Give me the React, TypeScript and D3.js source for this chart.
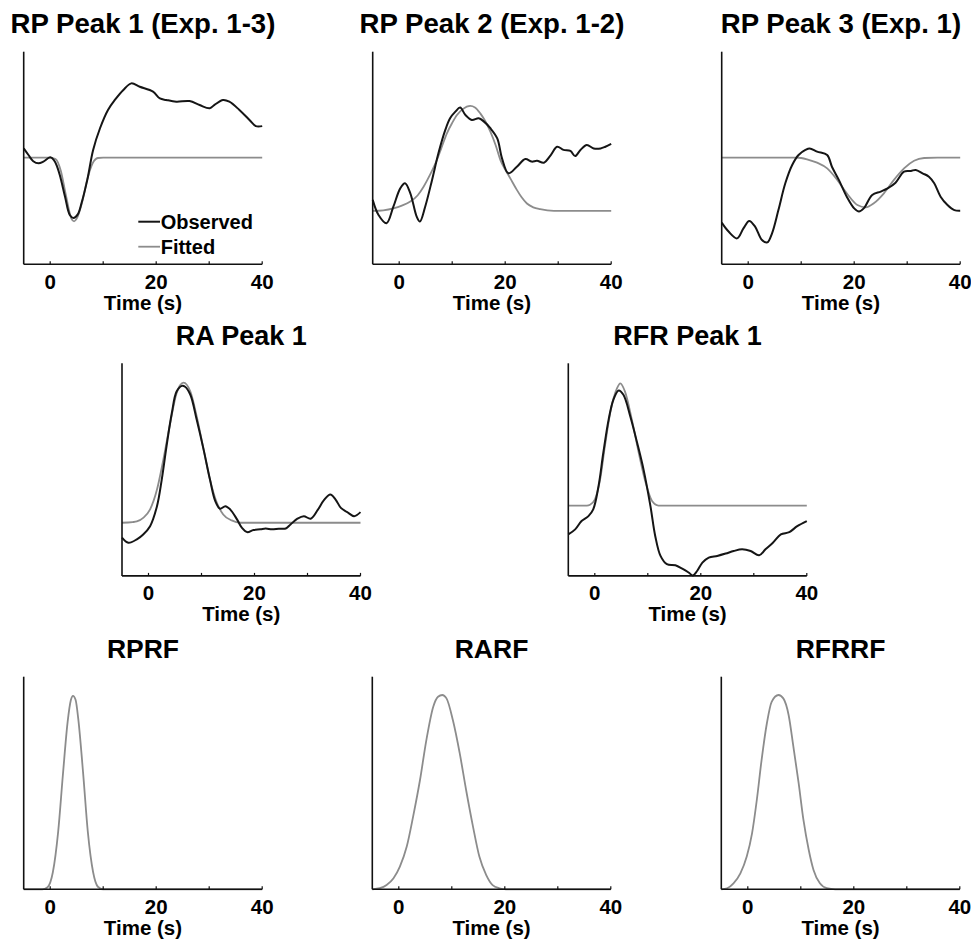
import React from "react";
import * as d3 from "d3";

type Pt = [number, number];

// time (s) vs. response, in percent of the panel's vertical extent
const rp1Observed: Pt[] = [
  [-5, 54.5], [-4.1, 51.4], [-3.2, 48.5], [-2.2, 47.5], [-1.3, 48.3], [0, 50.3], [0.7, 49],
  [1.3, 46], [1.9, 41.2], [2.8, 31.8], [3.7, 23.2], [4.4, 21.8], [5.2, 23.5], [5.9, 28.7],
  [7, 39.7], [8.1, 53.8], [9.4, 64], [10.9, 72.6], [12.2, 77.3], [13.8, 82], [15.3, 85.1],
  [16.9, 83.5], [19.4, 81.2], [20.7, 78], [21.9, 77.3], [23.8, 76.5], [26.3, 76.8], [28.2, 74.9],
  [30.1, 73.4], [31, 75], [32.6, 77.3], [33.8, 76.5], [35.7, 72.6], [37.6, 67.9], [38.8, 65], [40, 65],
];
const rp1Fitted: Pt[] = [
  [-5, 50.2], [-2, 50.2], [0, 50.2], [1, 49.5], [2, 44], [3, 32], [4, 21.5], [4.5, 20.2],
  [5, 21.5], [6, 29], [7, 40], [8, 47.5], [9, 50], [10, 50.2], [40, 50.2],
];

const rp2Observed: Pt[] = [
  [-5, 30.3], [-3.9, 23.2], [-2.4, 19.3], [-1.1, 27.1], [0.2, 35.7], [1.1, 38.1], [2.1, 33.4],
  [3.3, 22.4], [3.9, 20.1], [4.9, 27.1], [6.2, 39.7], [7.4, 52.2], [8.7, 63.2], [9.6, 68.7],
  [10.6, 71.8], [11.5, 73.7], [12.5, 70.2], [13.7, 67.9], [15, 68.7], [16, 67.1], [17.2, 64],
  [18.5, 59.2], [19.4, 49.8], [20.6, 42.8], [22.2, 45.9], [23.8, 49.5], [25, 48.3], [26, 48.7],
  [27.3, 47.8], [28.6, 51.4], [29.8, 55.3], [31, 53.8], [32.3, 53.3], [33.2, 50.9], [34.2, 53.8],
  [35.4, 56.1], [36.7, 54.5], [38, 54.5], [38.9, 55.3], [40, 56.6],
];
const rp2Fitted: Pt[] = [
  [-5, 25.1], [-3, 25.4], [-1.1, 26.3], [0.5, 27.6], [2.1, 29.5], [3.5, 32.5], [4.6, 36.5],
  [5.9, 42.5], [7.1, 49], [8, 55], [9, 61.6], [10, 66.5], [10.9, 70.2], [12, 73], [13.4, 74.5],
  [14.3, 73.8], [15.3, 71], [16.2, 67.5], [17.2, 62.4], [18.2, 56], [19.1, 49], [19.9, 45],
  [20.6, 42], [21.4, 38.5], [22.2, 35], [23.1, 31.5], [24.1, 28.6], [25.3, 26.8], [26.6, 25.9],
  [29.2, 25.1], [40, 25.1],
];

const rp3Observed: Pt[] = [
  [-5, 19.6], [-3.7, 15.4], [-2.1, 12.2], [-0.9, 16.9], [0.2, 20.4], [1.3, 17.7], [2.6, 11.4],
  [3.6, 10.3], [4.5, 14.6], [5.7, 25.5], [7, 38.1], [8.3, 46.7], [9.5, 51.4], [10.8, 53.8],
  [11.6, 54.5], [13, 53], [14.9, 51.4], [15.8, 45.9], [17.1, 39.7], [18.6, 31.8], [20, 26.3],
  [20.9, 24.8], [21.8, 26.3], [23.4, 32.6], [25, 34.2], [26.3, 35.7], [27.8, 38.4], [29.4, 43.6],
  [30.7, 43.9], [31.6, 44.4], [32.9, 42.8], [34.1, 41.2], [35.1, 38.1], [36.3, 31.8], [37.6, 27.9],
  [38.9, 25.5], [40, 25.2],
];
const rp3Fitted: Pt[] = [
  [-5, 50.2], [9, 50.2], [10, 50], [11.1, 49.4], [13, 47.8], [14.9, 45.1], [16.8, 39.7],
  [18.6, 33.4], [20.6, 27.9], [22.2, 26.8], [23.7, 28.7], [25.6, 33.4], [27.5, 39.7], [29.4, 45.1],
  [31.3, 48.7], [33.2, 50], [35.7, 50.2], [40, 50.2],
];

const raObserved: Pt[] = [
  [-5, 18], [-3.8, 15.6], [-2.2, 17.2], [-1, 19.5], [0.3, 23.4], [1.6, 32.8], [2.5, 45.3],
  [3.4, 60.9], [4.4, 76.6], [5.3, 86.7], [6.3, 89.4], [6.9, 89], [7.9, 85.2], [9.1, 73.4],
  [10.4, 59.4], [11.6, 45.3], [12.6, 35.2], [13.5, 31.6], [14.5, 32.8], [15.4, 31.3], [16.7, 26.6],
  [17.6, 22.7], [18.6, 20.6], [19.8, 21.6], [21.1, 21.9], [22.1, 22.3], [23.3, 21.9], [24.6, 22.2],
  [25.9, 22.3], [26.8, 24.2], [28.1, 26.9], [29.3, 28.1], [30.6, 26.9], [31.9, 30.9], [33.1, 35.6],
  [34.3, 38.3], [35.3, 35.9], [36.3, 32], [37.5, 30], [38.8, 28.1], [40, 30],
];
const raFitted: Pt[] = [
  [-5, 25], [-3, 25.3], [-2.2, 25.6], [-1, 27.3], [0.3, 31.3], [1.6, 40.6], [2.8, 54.7],
  [4.1, 71.9], [5.3, 85.9], [6.6, 90.9], [7.9, 86.7], [9.1, 75], [10.4, 59.4], [11.6, 45.3],
  [12.9, 34.4], [14.1, 28.9], [15.7, 26.1], [17.3, 25], [40, 25],
];

const rfrObserved: Pt[] = [
  [-5, 19.5], [-3.7, 21.9], [-2.5, 25.8], [-1.2, 28.1], [-0.3, 31.3], [0.7, 42.2], [1.6, 57.8],
  [2.6, 73.4], [3.5, 82.8], [4.5, 87.2], [5.4, 85.2], [6.7, 75], [8, 62.5], [9.2, 50], [10.5, 32.8],
  [11.4, 18.8], [12.4, 9.4], [13.6, 5.5], [15.2, 5], [16.5, 3.4], [17.7, 1.6], [18.5, 0.2],
  [19.3, 2.3], [20.3, 6.25], [21.5, 8.6], [23.1, 9.4], [24.7, 10.5], [26.2, 11.7], [27.8, 12.5],
  [29.4, 11.7], [31, 9.7], [32.2, 12.5], [33.6, 15.6], [35.1, 19.5], [36.7, 20.6], [38.2, 23.4],
  [40, 25.8],
];
const rfrFitted: Pt[] = [
  [-5, 33.1], [-1.5, 33.1], [-0.9, 33.5], [0, 35.9], [1, 45.3], [1.9, 60.9], [2.9, 76.6],
  [4.2, 88.3], [4.8, 90.6], [5.7, 86.7], [7, 73.4], [8.3, 57.8], [9.6, 43.8], [10.8, 35.2],
  [12, 33.1], [40, 33.1],
];

const rprf: Pt[] = [
  [-5, 0], [-1.5, 0], [-0.5, 1], [0.5, 8], [1.5, 27], [2.4, 54], [3.3, 79], [3.9, 89], [4.3, 91],
  [4.8, 89], [5.3, 80], [6.2, 55], [7.1, 27], [8.1, 8], [9, 1.2], [10, 0], [40, 0],
];
const rarf: Pt[] = [
  [-5, 0], [-3.6, 0.5], [-2.3, 2], [-1, 5.2], [0.2, 10.7], [1.5, 20.1], [2.7, 34.2], [4, 51.4],
  [5.2, 70.2], [6.5, 85.9], [7.4, 90.6], [8.2, 91.4], [9, 89.8], [10.2, 79.6], [11.5, 63.9],
  [12.7, 46.7], [14, 29.5], [15.2, 15.4], [16.5, 6.7], [17.7, 2], [19, 0.5], [20.2, 0], [40, 0],
];
const rfrrf: Pt[] = [
  [-5, 0], [-3.9, 0.5], [-2.7, 2.8], [-1.4, 7.5], [-0.2, 15.4], [0.8, 26.3], [1.7, 42],
  [2.6, 60.8], [3.6, 78.1], [4.5, 88.2], [5.8, 91.4], [6.7, 89.8], [7.7, 82], [8.6, 67.1],
  [9.6, 49.8], [10.5, 32.6], [11.5, 18.5], [12.4, 9.1], [13.6, 2.8], [14.9, 0.5], [16.5, 0], [40, 0],
];

const timeDomain: [number, number] = [-5, 40];
const legendLabels = ["Observed", "Fitted"];
const xLabel = "Time (s)";

const FONT = "'Liberation Sans', Arial, Helvetica, sans-serif";
const OBS = "#151515";
const FIT = "#8c8c8c";
const PW = 238.5;
const PH = 212.6;

interface PanelSpec {
  title: string;
  left: number;
  top: number;
  titleSize: number;
  observed?: Pt[];
  fitted: Pt[];
  legend?: boolean;
}

const panels: PanelSpec[] = [
  { title: "RP Peak 1 (Exp. 1-3)", left: 23.7, top: 51.7, titleSize: 27.6, observed: rp1Observed, fitted: rp1Fitted, legend: true },
  { title: "RP Peak 2 (Exp. 1-2)", left: 372.7, top: 51.7, titleSize: 27.6, observed: rp2Observed, fitted: rp2Fitted },
  { title: "RP Peak 3 (Exp. 1)", left: 721.7, top: 51.7, titleSize: 27.6, observed: rp3Observed, fitted: rp3Fitted },
  { title: "RA Peak 1", left: 122, top: 363.3, titleSize: 27, observed: raObserved, fitted: raFitted },
  { title: "RFR Peak 1", left: 568.3, top: 363.3, titleSize: 27, observed: rfrObserved, fitted: rfrFitted },
  { title: "RPRF", left: 23.7, top: 676.7, titleSize: 26.5, fitted: rprf },
  { title: "RARF", left: 372.3, top: 676.7, titleSize: 26.5, fitted: rarf },
  { title: "RFRRF", left: 721.3, top: 676.7, titleSize: 26.5, fitted: rfrrf },
];

function Panel({ p }: { p: PanelSpec }) {
  const x = d3.scaleLinear().domain(timeDomain).range([p.left, p.left + PW]);
  const y = d3.scaleLinear().domain([0, 100]).range([p.top + PH, p.top]);
  const fitLine = d3
    .line<Pt>()
    .x(d => x(d[0]))
    .y(d => y(d[1]))
    .curve(d3.curveMonotoneX);
  const obsLine = d3
    .line<Pt>()
    .x(d => x(d[0]))
    .y(d => y(d[1]))
    .curve(d3.curveCatmullRom.alpha(0.5));
  const ticks = x.ticks(5);
  const bottom = p.top + PH;
  const cx = p.left + PW / 2;

  return (
    <g>
      <text x={cx} y={p.top - 18.5} textAnchor="middle" fontSize={p.titleSize} fontWeight="bold" fontFamily={FONT} fill="#000">
        {p.title}
      </text>
      <path d={fitLine(p.fitted) || ""} fill="none" stroke={FIT} strokeWidth={1.8} />
      {p.observed && <path d={obsLine(p.observed) || ""} fill="none" stroke={OBS} strokeWidth={2} />}
      <line x1={p.left} x2={p.left} y1={p.top} y2={bottom} stroke="#111" strokeWidth={1.6} />
      <line x1={p.left} x2={p.left + PW} y1={bottom} y2={bottom} stroke="#111" strokeWidth={1.6} />
      {ticks.map(t => (
        <line key={t} x1={x(t)} x2={x(t)} y1={bottom} y2={bottom - 3} stroke="#111" strokeWidth={1.2} />
      ))}
      {ticks
        .filter(t => t % 20 === 0)
        .map(t => (
          <text key={"l" + t} x={x(t)} y={bottom + 24.5} textAnchor="middle" fontSize={20.5} fontWeight="bold" fontFamily={FONT}>
            {t}
          </text>
        ))}
      <text x={cx} y={bottom + 45.5} textAnchor="middle" fontSize={20.5} fontWeight="bold" fontFamily={FONT}>
        {xLabel}
      </text>
      {p.legend &&
        legendLabels.map((lab, i) => (
          <g key={lab}>
            <line
              x1={p.left + 114.6}
              x2={p.left + 136.3}
              y1={p.top + 170 + i * 25}
              y2={p.top + 170 + i * 25}
              stroke={i === 0 ? OBS : FIT}
              strokeWidth={i === 0 ? 2 : 1.8}
            />
            <text x={p.left + 137} y={p.top + 177.6 + i * 25} fontSize={20} fontWeight="bold" fontFamily={FONT}>
              {lab}
            </text>
          </g>
        ))}
    </g>
  );
}

export default function App() {
  return (
    <svg
      width={971}
      height={943}
      viewBox="0 0 971 943"
      style={{ position: "absolute", left: 0, top: 0, background: "#fff" }}
    >
      <rect width={971} height={943} fill="#fff" />
      {panels.map(p => (
        <Panel key={p.title} p={p} />
      ))}
    </svg>
  );
}
